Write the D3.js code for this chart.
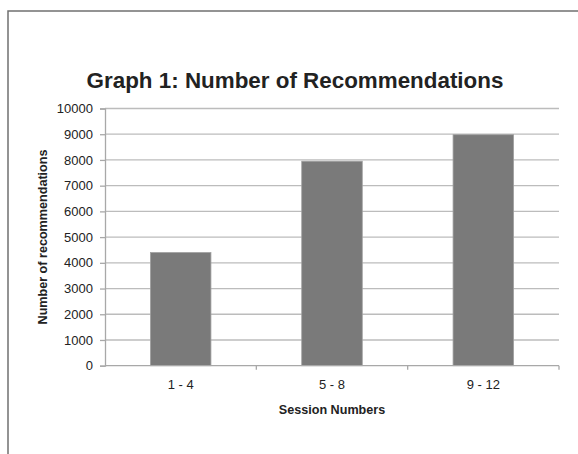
<!DOCTYPE html>
<html><head><meta charset="utf-8">
<script src="https://cdn.jsdelivr.net/npm/d3@7"></script>
<style>body{margin:0;background:#fff}svg{display:block}text{font-family:"Liberation Sans",Arial,sans-serif;fill:#222}</style>
</head><body>
<script>
const categories = ["1 - 4", "5 - 8", "9 - 12"];
const values = [4400, 7950, 8980];
const yTicks = [0,1000,2000,3000,4000,5000,6000,7000,8000,9000,10000];
const title = "Graph 1: Number of Recommendations";
const xTitle = "Session Numbers";
const yTitle = "Number of recommendations";

const W = 578, H = 454;
const svg = d3.select("body").append("svg").attr("width", W).attr("height", H);

// frame
svg.append("path").attr("d", `M8,${H} L8,11 L${W},11`).attr("fill","none").attr("stroke","#707070").attr("stroke-width",1.5);

const m = {left:105, right:559, top:108.5, bottom:365.7};
const x = d3.scaleBand().domain(categories).range([m.left, m.right]).paddingInner(0.6).paddingOuter(0.3);
const y = d3.scaleLinear().domain([0,10000]).range([m.bottom, m.top]);

// gridlines
svg.append("g").selectAll("line").data(yTicks.filter(d=>d>0)).join("line")
  .attr("x1", m.left).attr("x2", m.right)
  .attr("y1", d=>y(d)).attr("y2", d=>y(d))
  .attr("stroke","#bcbcbc").attr("stroke-width",1.3);

// bars
svg.append("g").selectAll("rect").data(values).join("rect")
  .attr("x",(d,i)=>x(categories[i])).attr("width", x.bandwidth())
  .attr("y", d=>y(d)).attr("height", d=>y(0)-y(d))
  .attr("fill","#7a7a7a").attr("stroke","#a0a0a0").attr("stroke-width",0.8);

// y axis
const ya = svg.append("g").attr("transform",`translate(${m.left},0)`)
  .call(d3.axisLeft(y).tickValues(yTicks).tickFormat(d3.format("d")).tickSize(5).tickPadding(7));
ya.select(".domain").attr("stroke","#a8a8a8").attr("stroke-width",1.3);
ya.selectAll(".tick line").attr("stroke","#a8a8a8").attr("stroke-width",1.3);
ya.selectAll("text").attr("font-size",13).attr("fill","#222").attr("font-family","Liberation Sans, Arial, sans-serif");

// x axis
const bounds = [m.left, m.left+ (m.right-m.left)/3, m.left+2*(m.right-m.left)/3, m.right];
const xa = svg.append("g");
xa.append("line").attr("x1",m.left).attr("x2",m.right).attr("y1",m.bottom).attr("y2",m.bottom).attr("stroke","#a8a8a8").attr("stroke-width",1.3);
xa.selectAll("line.t").data(bounds.slice(1)).join("line").attr("class","t")
  .attr("x1",d=>d).attr("x2",d=>d).attr("y1",m.bottom).attr("y2",m.bottom+4).attr("stroke","#a8a8a8").attr("stroke-width",1.3);
xa.selectAll("text").data(categories).join("text")
  .attr("x",d=>x(d)+x.bandwidth()/2).attr("y",389).attr("text-anchor","middle").attr("font-size",13).text(d=>d);

// titles
svg.append("text").attr("x",295).attr("y",88).attr("text-anchor","middle").attr("font-size",22.4).attr("font-weight","bold").text(title);
svg.append("text").attr("x",332).attr("y",414).attr("text-anchor","middle").attr("font-size",12.6).attr("font-weight","bold").text(xTitle);
svg.append("text").attr("transform","translate(47,237) rotate(-90)").attr("text-anchor","middle").attr("font-size",12.6).attr("font-weight","bold").text(yTitle);
</script>
</body></html>
